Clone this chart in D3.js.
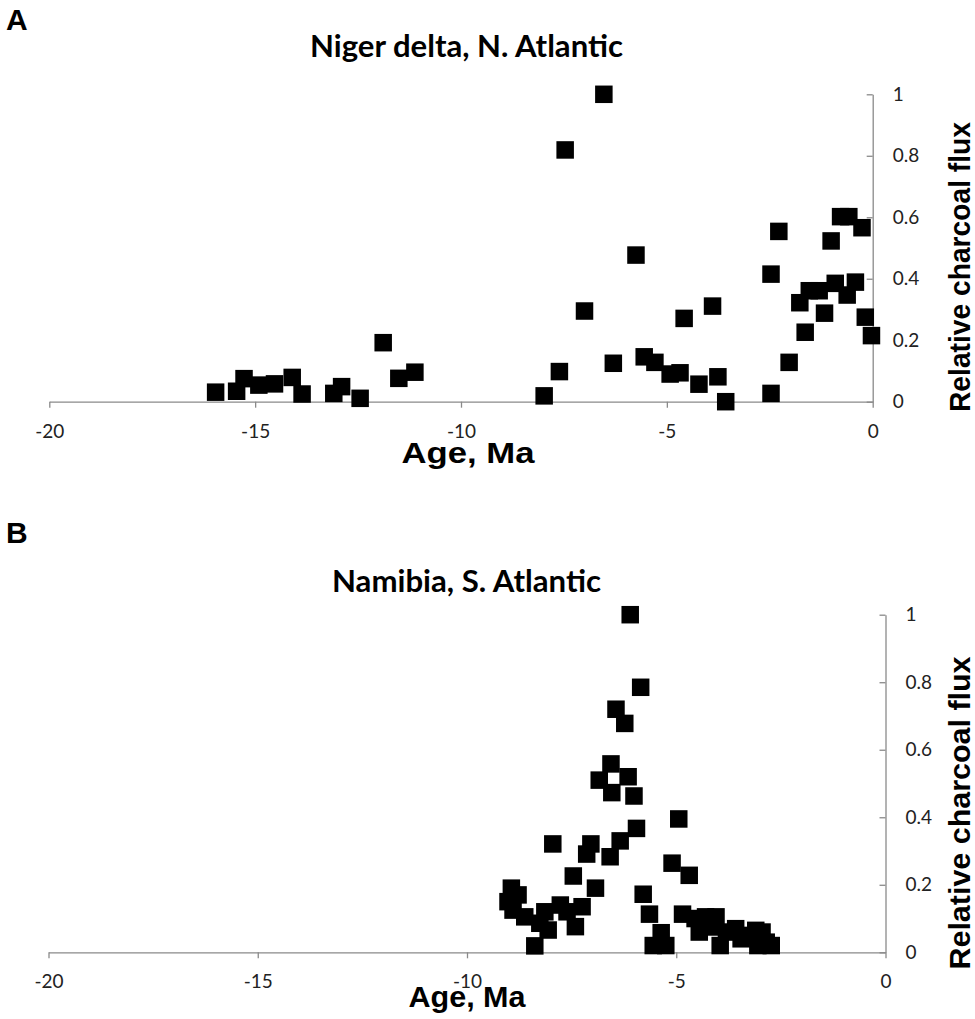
<!DOCTYPE html>
<html><head><meta charset="utf-8">
<script src="https://cdn.jsdelivr.net/npm/d3@7"></script>
<style>html,body{margin:0;padding:0;background:#fff;}svg{display:block;}</style>
</head><body>
<svg id="chart" width="975" height="1019"></svg>
<script>
// ---- data ----
const panelLabels = ["A", "B"];
const titles = ["Niger delta, N. Atlantic", "Namibia, S. Atlantic"];
const xAxisTitle = "Age, Ma";
const yAxisTitle = "Relative charcoal flux";
const xTicks = [-20, -15, -10, -5, 0];
const yTicks = [0, 0.2, 0.4, 0.6, 0.8, 1];

const ageNiger = [-15.96,-15.45,-15.27,-14.91,-14.53,-14.10,-13.86,-13.09,-12.90,-12.45,-11.89,-11.51,-11.12,
  -7.98,-7.61,-7.47,-7.00,-6.53,-6.30,-5.75,-5.55,-5.29,-4.92,-4.68,-4.58,-4.22,-3.89,-3.76,-3.57,
  -2.47,-2.47,-2.28,-2.03,-1.77,-1.64,-1.54,-1.30,-1.17,-1.01,-0.91,-0.78,-0.62,-0.58,-0.42,-0.26,-0.18,-0.03];
const fluxNiger = [0.031,0.034,0.075,0.054,0.058,0.079,0.025,0.027,0.049,0.011,0.192,0.076,0.096,
  0.019,0.098,0.819,0.295,1.0,0.125,0.477,0.146,0.128,0.090,0.094,0.271,0.057,0.311,0.081,0.0,
  0.027,0.415,0.554,0.128,0.322,0.226,0.361,0.361,0.288,0.523,0.385,0.602,0.347,0.602,0.389,0.566,0.275,0.215];

const ageNamibia = [-9.02,-8.94,-8.90,-8.78,-8.62,-8.38,-8.26,-8.14,-8.06,-7.95,-7.77,-7.61,-7.46,-7.41,-7.25,
  -7.14,-7.04,-6.93,-6.84,-6.58,-6.56,-6.54,-6.44,-6.34,-6.23,-6.15,-6.10,-6.01,-5.95,-5.85,-5.79,-5.64,
  -5.55,-5.36,-5.25,-5.10,-4.94,-4.85,-4.69,
  -4.55,-4.30,-4.05,-4.45,-4.15,-3.95,-3.80,-3.58,-3.45,-3.20,-3.10,-2.95,-2.85,-3.05,-2.73];
const fluxNamibia = [0.150,0.190,0.125,0.170,0.105,0.019,0.086,0.120,0.066,0.321,0.140,0.120,0.226,0.076,0.135,
  0.291,0.321,0.190,0.510,0.283,0.558,0.473,0.720,0.330,0.678,0.520,1.0,0.463,0.367,0.785,0.172,0.113,
  0.020,0.058,0.020,0.264,0.395,0.113,0.228,
  0.100,0.105,0.105,0.060,0.075,0.020,0.060,0.070,0.040,0.050,0.065,0.060,0.030,0.020,0.020];

// ---- layout ----
const panels = [
  { label: panelLabels[0], title: titles[0], ages: ageNiger, flux: fluxNiger,
    xr: [49.3, 872.7], yr: [401.7, 94.3], labelY: 30, titleY: 57, titleLen: 313,
    xtY: 438, xTitleY: 463, xTitleX: 468, xTitleLen: 133, yTitleY: 267, yTitleLen: 290 },
  { label: panelLabels[1], title: titles[1], ages: ageNamibia, flux: fluxNamibia,
    xr: [48.5, 885.5], yr: [952.3, 614.7], labelY: 543, titleY: 592, titleLen: 269,
    xtY: 988, xTitleY: 1007, xTitleX: 467, xTitleLen: 117, yTitleY: 813, yTitleLen: 313 }
];

const svg = d3.select("#chart");
const axisColor = "#8a8a8a";
const sz = 17.5;

panels.forEach(p => {
  const x = d3.scaleLinear().domain([-20, 0]).range(p.xr);
  const y = d3.scaleLinear().domain([0, 1]).range(p.yr);
  const g = svg.append("g");

  // panel letter
  g.append("text").attr("x", 6).attr("y", p.labelY)
    .attr("font-family", "Liberation Sans, Arial, sans-serif").attr("font-weight", "bold")
    .attr("font-size", 30).text(p.label);

  // title
  g.append("text").attr("x", 466.5).attr("y", p.titleY).attr("text-anchor", "middle")
    .attr("font-family", "Lato, sans-serif").attr("font-weight", "bold").attr("font-size", 31)
    .attr("textLength", p.titleLen).attr("lengthAdjust", "spacingAndGlyphs")
    .text(p.title);

  // x axis
  const xa = g.append("g").attr("transform", `translate(0,${y(0)})`)
    .call(d3.axisBottom(x).tickValues(xTicks).tickSizeInner(6).tickSizeOuter(0).tickFormat(d => String(d)));
  xa.select(".domain").attr("stroke", axisColor).attr("stroke-width", 1.3);
  xa.selectAll(".tick line").attr("stroke", axisColor).attr("stroke-width", 1.3);
  xa.selectAll(".tick text").attr("y", p.xtY - y(0)).attr("dy", 0)
    .attr("font-family", "Lato, sans-serif").attr("font-size", 19).attr("fill", "#222");

  // y axis (right side, ticks pointing left)
  const ya = g.append("g").attr("transform", `translate(${x(0)},0)`)
    .call(d3.axisRight(y).tickValues(yTicks).tickSizeInner(-6).tickSizeOuter(0).tickPadding(20)
      .tickFormat(d => String(d)));
  ya.select(".domain").attr("stroke", axisColor).attr("stroke-width", 1.3);
  ya.selectAll(".tick line").attr("stroke", axisColor).attr("stroke-width", 1.3);
  ya.selectAll(".tick text").attr("font-family", "Lato, sans-serif").attr("font-size", 19).attr("fill", "#222");

  // points
  const pts = p.ages.map((a, i) => ({ a, f: p.flux[i] }));
  g.append("g").selectAll("rect").data(pts).join("rect")
    .attr("x", d => x(d.a) - sz / 2).attr("y", d => y(d.f) - sz / 2)
    .attr("width", sz).attr("height", sz).attr("fill", "#000");

  // axis titles
  g.append("text").attr("x", p.xTitleX).attr("y", p.xTitleY).attr("text-anchor", "middle")
    .attr("font-family", "Liberation Sans, Arial, sans-serif").attr("font-weight", "bold")
    .attr("font-size", 30).attr("textLength", p.xTitleLen).attr("lengthAdjust", "spacingAndGlyphs")
    .text(xAxisTitle);
  g.append("text").attr("transform", `translate(970,${p.yTitleY}) rotate(-90)`).attr("text-anchor", "middle")
    .attr("font-family", "Liberation Sans, Arial, sans-serif").attr("font-weight", "bold")
    .attr("font-size", 29).attr("textLength", p.yTitleLen).attr("lengthAdjust", "spacingAndGlyphs")
    .text(yAxisTitle);
});
</script>
</body></html>
